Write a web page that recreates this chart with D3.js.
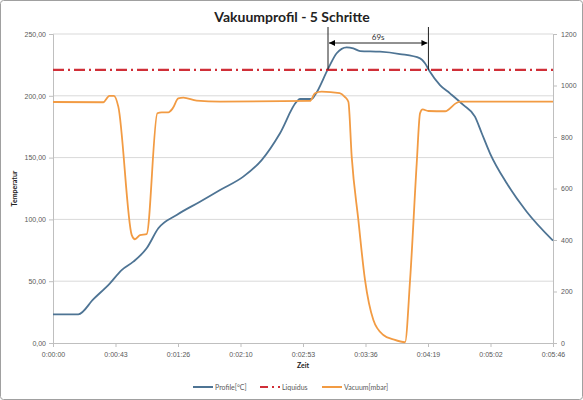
<!DOCTYPE html>
<html>
<head>
<meta charset="utf-8">
<script src="https://cdn.jsdelivr.net/npm/d3@7"></script>
<style>
  body { margin: 0; background: #fff; }
  svg { font-family: Lato, "Liberation Sans", sans-serif; }
  .tick text { fill: #595959; font-size: 7px; }
  .domain, .tick line { stroke: #bfbfbf; }
</style>
</head>
<body>
<svg id="chart" width="583" height="400"></svg>
<script>
// time in seconds, temperature in degrees C (left axis)
const profileTime = [0, 17.5, 28, 39.4, 47.5, 55.6, 64.8, 72.9, 85.6, 101.7, 115.6, 131.7,
    144.4, 157.1, 168.6, 170.9, 179, 181.3, 190.5, 196.3, 203.2, 207.8, 212.5, 226.3,
    240.1, 254, 257.4, 260.4, 267.8, 274.7, 283.9, 292, 296.7, 302.4, 314, 327.8, 346];
const profileTemp = [23.2, 23.2, 35.5, 48.3, 59, 65.8, 76.6, 92.8, 103.6, 114.3, 123.8, 134.6,
    148, 169.7, 195.2, 197.4, 197.4, 200.6, 222.2, 234.4, 239.2, 238.4, 236.2, 235.7,
    233.8, 230.3, 226.3, 220.3, 208.7, 202, 192.6, 183.1, 169.7, 153.5, 129.2, 106.2, 82.8];

// time in seconds, vacuum in mbar (right axis)
const vacuumTime = [0, 34.8, 39, 42.2, 45.2, 54.5, 56.7, 60.2, 64.8, 72.2, 75.2, 79.8, 82.8,
    86.7, 90.2, 99.4, 115.6, 177.8, 181.3, 185.9, 198.4, 201.9, 204.4, 206.7, 211.3,
    215.9, 221.7, 228.6, 235.5, 243.6, 247.1, 251.7, 254, 255.8, 259.7, 271.3, 279.4, 281.7, 346];
const vacuumMbar = [936, 935, 960, 960, 918, 419, 403, 419, 423, 892, 896, 896, 911,
    950, 953, 941, 937, 940, 970, 976, 970, 956, 937, 724, 478,
    245, 89, 31, 14, 3, 245, 698, 892, 907, 901, 900, 933, 937, 937];

const liquidus = 221;
const meltStart = 190.3, meltEnd = 259.8;
const meltLabel = '69s';

const timeTicks = [0, 43.25, 86.5, 129.75, 173, 216.25, 259.5, 302.75, 346];
const timeLabels = ['0:00:00', '0:00:43', '0:01:26', '0:02:10', '0:02:53', '0:03:36', '0:04:19', '0:05:02', '0:05:46'];
const tempTicks = [0, 50, 100, 150, 200, 250];
const vacuumTicks = [0, 200, 400, 600, 800, 1000, 1200];

const colors = {
    profile: '#4e7494',
    liquidus: '#d02f38',
    vacuum: '#f29b43',
    grid: '#d9d9d9'
};

const W = 583, H = 400;
const margin = {left: 53, right: 30, top: 34, bottom: 57};

const svg = d3.select('#chart');

svg.append('rect')
    .attr('x', 0.5).attr('y', 0.5)
    .attr('width', W - 1).attr('height', H - 1)
    .attr('rx', 3)
    .attr('fill', '#fff')
    .attr('stroke', '#a0a0a0');

const x = d3.scaleLinear().domain([0, 346]).range([margin.left, W - margin.right]);
const yT = d3.scaleLinear().domain([0, 250]).range([H - margin.bottom, margin.top]);
const yV = d3.scaleLinear().domain([0, 1200]).range([H - margin.bottom, margin.top]);

// horizontal gridlines
svg.append('g')
    .selectAll('line')
    .data(tempTicks.slice(1))
    .join('line')
    .attr('x1', x(0)).attr('x2', x(346))
    .attr('y1', d => yT(d)).attr('y2', d => yT(d))
    .attr('stroke', colors.grid);

const fmtComma = d => d3.format('.2f')(d).replace('.', ',');

svg.append('g')
    .attr('transform', `translate(${margin.left},0)`)
    .call(d3.axisLeft(yT).tickValues(tempTicks).tickFormat(fmtComma).tickSize(4).tickPadding(3));

svg.append('g')
    .attr('transform', `translate(${W - margin.right},0)`)
    .call(d3.axisRight(yV).tickValues(vacuumTicks).tickFormat(d3.format('d')).tickSize(4).tickPadding(4));

svg.append('g')
    .attr('transform', `translate(0,${H - margin.bottom})`)
    .call(d3.axisBottom(x).tickValues(timeTicks).tickFormat((d, i) => timeLabels[i]).tickSize(4).tickPadding(5));

svg.selectAll('.domain').attr('stroke', '#bfbfbf');

// series
const profileLine = d3.line()
    .x((d, i) => x(profileTime[i]))
    .y(d => yT(d))
    .curve(d3.curveMonotoneX);

const vacuumLine = d3.line()
    .x((d, i) => x(vacuumTime[i]))
    .y(d => yV(d))
    .curve(d3.curveMonotoneX);

svg.append('path')
    .datum(profileTemp)
    .attr('d', profileLine)
    .attr('fill', 'none')
    .attr('stroke', colors.profile)
    .attr('stroke-width', 1.8);

svg.append('line')
    .attr('x1', x(0)).attr('x2', x(346))
    .attr('y1', yT(liquidus)).attr('y2', yT(liquidus))
    .attr('stroke', colors.liquidus)
    .attr('stroke-width', 2.4)
    .attr('stroke-dasharray', '11,4,2,4');

svg.append('path')
    .datum(vacuumMbar)
    .attr('d', vacuumLine)
    .attr('fill', 'none')
    .attr('stroke', colors.vacuum)
    .attr('stroke-width', 1.8);

// 69s annotation
const defs = svg.append('defs');
defs.append('marker')
    .attr('id', 'arrow')
    .attr('viewBox', '0 0 10 10')
    .attr('refX', 10).attr('refY', 5)
    .attr('markerWidth', 6).attr('markerHeight', 6)
    .attr('markerUnits', 'userSpaceOnUse')
    .attr('orient', 'auto-start-reverse')
    .append('path')
    .attr('d', 'M0,0L10,5L0,10Z')
    .attr('fill', '#000');

const ann = svg.append('g');
[meltStart, meltEnd].forEach(t => {
    ann.append('line')
        .attr('x1', x(t)).attr('x2', x(t))
        .attr('y1', 27).attr('y2', yT(liquidus))
        .attr('stroke', '#222')
        .attr('stroke-width', 1);
});
ann.append('line')
    .attr('x1', x(meltStart) + 1).attr('x2', x(meltEnd) - 1)
    .attr('y1', 43).attr('y2', 43)
    .attr('stroke', '#222')
    .attr('stroke-width', 1)
    .attr('marker-start', 'url(#arrow)')
    .attr('marker-end', 'url(#arrow)');
ann.append('text')
    .attr('x', (x(meltStart) + x(meltEnd)) / 2)
    .attr('y', 40)
    .attr('text-anchor', 'middle')
    .attr('font-size', 8)
    .attr('fill', '#333')
    .text(meltLabel);

// titles
svg.append('text')
    .attr('x', 292).attr('y', 22)
    .attr('text-anchor', 'middle')
    .attr('font-size', 14)
    .attr('font-weight', 'bold')
    .attr('fill', '#222')
    .text('Vakuumprofil - 5 Schritte');

svg.append('text')
    .attr('transform', `translate(17,${(yT(0) + yT(250)) / 2}) rotate(-90)`)
    .attr('text-anchor', 'middle')
    .attr('font-size', 7)
    .attr('font-weight', 'bold')
    .attr('fill', '#222')
    .text('Temperatur');

svg.append('text')
    .attr('x', 303).attr('y', 368)
    .attr('text-anchor', 'middle')
    .attr('font-size', 7)
    .attr('font-weight', 'bold')
    .attr('fill', '#222')
    .text('Zeit');

// legend
const legendItems = [
    {label: 'Profile[°C]', color: colors.profile, x: 193, dash: null},
    {label: 'Liquidus', color: colors.liquidus, x: 260, dash: '8,4,2,4'},
    {label: 'Vacuum[mbar]', color: colors.vacuum, x: 322, dash: null}
];
const legend = svg.append('g');
legendItems.forEach(item => {
    legend.append('line')
        .attr('x1', item.x).attr('x2', item.x + 20)
        .attr('y1', 387).attr('y2', 387)
        .attr('stroke', item.color)
        .attr('stroke-width', 2)
        .attr('stroke-dasharray', item.dash);
    legend.append('text')
        .attr('x', item.x + 22).attr('y', 389.5)
        .attr('font-size', 7)
        .attr('fill', '#595959')
        .text(item.label);
});
</script>
</body>
</html>
